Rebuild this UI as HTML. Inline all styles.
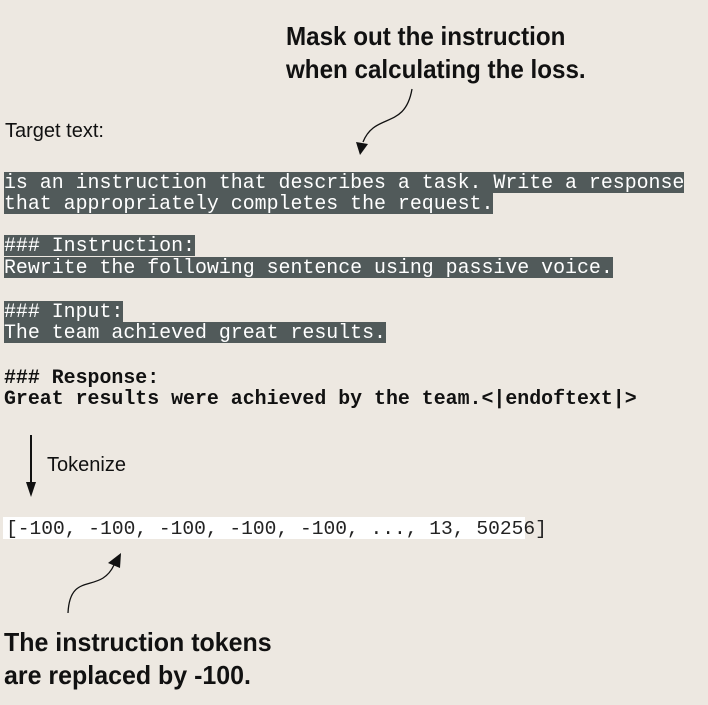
<!DOCTYPE html>
<html><head><meta charset="utf-8"><style>
body{margin:0;width:708px;height:705px;background:#ede8e1;position:relative;overflow:hidden}
.t{position:absolute;font-family:"Liberation Sans",sans-serif;font-weight:bold;font-size:26px;line-height:33px;color:#111;white-space:nowrap;transform-origin:0 0}
.s{position:absolute;font-family:"Liberation Sans",sans-serif;font-size:20px;color:#111;white-space:nowrap}
.m{position:absolute;left:4px;font-family:"Liberation Mono",monospace;font-size:19.9px;line-height:21px;height:21px;white-space:pre;color:#fff}
.m span{background:#515a5a;display:inline-block;height:21px}
.b{color:#111;font-weight:bold}
</style></head><body>
<div class="t" style="left:286px;top:20px;transform:scaleX(0.93)">Mask out the instruction<br>when calculating the loss.</div>
<div class="s" style="left:5px;top:120px">Target text:</div>
<div class="m" style="top:172px"><span>is an instruction that describes a task. Write a response</span></div>
<div class="m" style="top:193px"><span>that appropriately completes the request.</span></div>
<div class="m" style="top:235px"><span>### Instruction:</span></div>
<div class="m" style="top:257px"><span>Rewrite the following sentence using passive voice.</span></div>
<div class="m" style="top:301px"><span>### Input:</span></div>
<div class="m" style="top:322px"><span>The team achieved great results.</span></div>
<div class="m b" style="top:367px">### Response:</div>
<div class="m b" style="top:388px">Great results were achieved by the team.&lt;|endoftext|&gt;</div>
<div class="s" style="left:47px;top:454px">Tokenize</div>
<div style="position:absolute;left:3px;top:517px;width:522px;height:22px;background:#fff"></div>
<div class="m" style="left:6px;top:519px;color:#222;font-size:19.6px">[-100, -100, -100, -100, -100, ..., 13, 50256]</div>
<div class="t" style="left:4px;top:626px;transform:scaleX(0.96)">The instruction tokens<br>are replaced by -100.</div>
<svg width="708" height="705" style="position:absolute;left:0;top:0">
<path d="M412 89 C405 130,375 112,363 142" fill="none" stroke="#111" stroke-width="1.3"/>
<polygon points="356,142 368,144 360,155" fill="#111"/>
<line x1="31" y1="435" x2="31" y2="485" stroke="#111" stroke-width="2"/>
<polygon points="26,482 36,482 31,497" fill="#111"/>
<path d="M68 613 C70 570,100 595,114 565" fill="none" stroke="#111" stroke-width="1.3"/>
<polygon points="108,563 120,568 121,553" fill="#111"/>
</svg>
</body></html>
